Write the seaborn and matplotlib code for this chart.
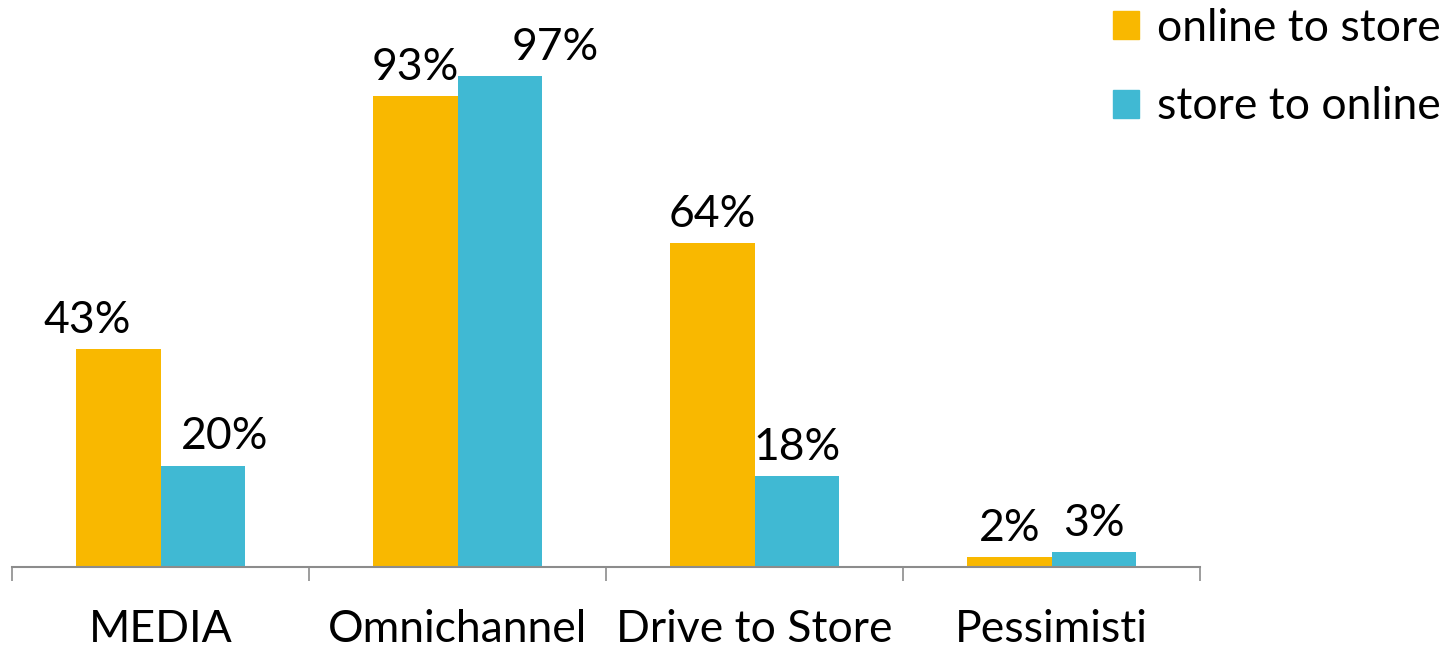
import pandas as pd
import numpy as np
import seaborn as sns
import matplotlib.pyplot as plt
from matplotlib.ticker import FixedLocator

categories = ['MEDIA', 'Omnichannel', 'Drive to Store', 'Pessimisti']
online_to_store = [43, 93, 64, 2]
store_to_online = [20, 97, 18, 3]
series = ['online to store', 'store to online']

df = pd.DataFrame({
    'categoria': categories * 2,
    'valore': online_to_store + store_to_online,
    'serie': [series[0]] * 4 + [series[1]] * 4,
})

sns.set_style('white')
plt.rcParams['font.family'] = ['Lato', 'DejaVu Sans']
plt.rcParams['text.color'] = 'black'
plt.rcParams['xtick.color'] = 'black'

fig = plt.figure(figsize=(14.49, 6.47), dpi=100)
ax = fig.add_axes([0.0083, 0.1236, 0.82, 0.8764])

colori = ['#F9B800', '#40B9D3']
sns.barplot(data=df, x='categoria', y='valore', hue='serie', palette=colori,
            width=0.57, saturation=1, linewidth=0, ax=ax, legend=False)

# spostamento orizzontale delle etichette (in punti), come nell'originale
spost = [[-22, 0, 0, 0], [16, 40, 0, 0]]
for i, cont in enumerate(ax.containers):
    etichette = ax.bar_label(cont, fmt='%d%%', padding=6, fontsize=32, color='black')
    for j, et in enumerate(etichette):
        et.xyann = (spost[i][j], 6)

ax.set_ylim(0, 112)
ax.set_xlim(-0.5, 3.5)
ax.set_yticks([])
ax.set_xlabel('')
ax.set_ylabel('')
for s in ['top', 'right', 'left']:
    ax.spines[s].set_visible(False)
ax.spines['bottom'].set_color('#8c8c8c')
ax.spines['bottom'].set_linewidth(1.5)
ax.xaxis.set_minor_locator(FixedLocator(np.arange(-0.5, 4, 1)))
ax.tick_params(axis='x', which='minor', length=10, width=1.2, color='#8c8c8c', bottom=True)
ax.tick_params(axis='x', which='major', length=0, pad=30, labelsize=32, labelcolor='black')

handles = [plt.Rectangle((0, 0), 1, 1, color=c) for c in colori]
fig.legend(handles, series, loc='upper right', bbox_to_anchor=(1.022, 1.05),
           frameon=False, fontsize=32, handlelength=0.6, handleheight=0.6,
           handletextpad=0.4, labelspacing=0.85)

fig.savefig('out.png', dpi=100)
